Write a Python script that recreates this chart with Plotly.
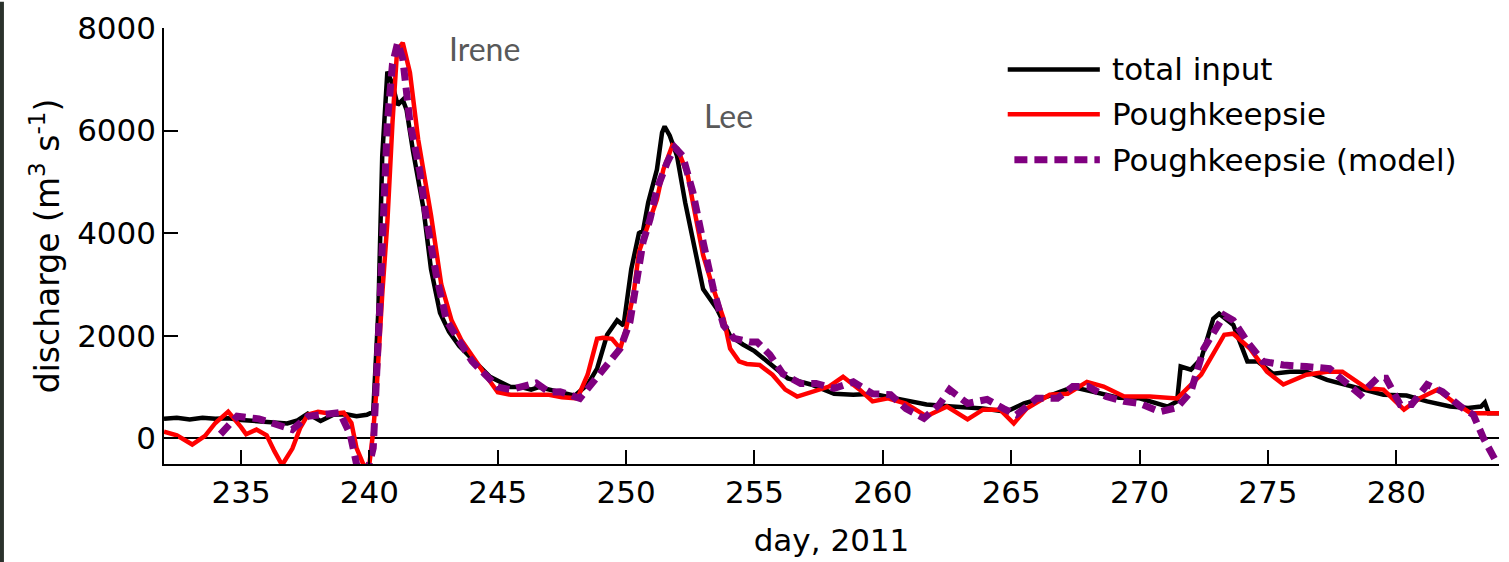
import plotly.graph_objects as go

# ---------------- data ----------------
series_names = ["total input", "Poughkeepsie", "Poughkeepsie (model)"]

total_day = [232.0, 232.5, 233.0, 233.5, 234.0, 234.5, 235.0, 235.5, 236.0, 236.5, 236.8, 237.2, 237.6,
             238.1, 238.6, 239.1, 239.5, 239.9, 240.15, 240.35, 240.5, 240.7, 240.9, 241.1, 241.3, 241.45,
             241.7, 242.1, 242.4, 242.75, 243.1, 243.5, 243.9, 244.3, 244.7, 245.1, 245.5, 245.9, 246.3,
             246.6, 247.0, 247.4, 248.0, 248.5, 248.87, 249.26, 249.65, 249.9, 250.2, 250.5, 250.66, 250.86,
             251.2, 251.4, 251.5, 251.7, 251.98, 252.3, 252.6, 253.0, 253.54, 254.05, 254.55, 255.0, 255.5,
             256.3, 257.2, 258.1, 258.85, 259.6, 260.7, 261.7, 262.7, 263.9, 264.8, 265.5, 266.4, 267.4,
             268.2, 269.2, 270.0, 270.6, 271.1, 271.46, 271.6, 272.0, 272.4, 272.87, 273.1, 273.65, 274.2,
             274.6, 275.2, 275.86, 276.5, 277.3, 278.3, 279.5, 280.4, 281.2, 282.1, 282.8, 283.3, 283.45,
             283.6, 284.0]
total_val = [380, 400, 370, 400, 380, 390, 360, 340, 330, 300, 290, 350, 480,
             340, 460, 470, 430, 460, 520, 2500, 5500, 7150, 6900, 6500, 6600, 6400,
             5600, 4500, 3300, 2450, 2080, 1800, 1600, 1400, 1200, 1100, 1000, 1000, 950,
             1000, 950, 900, 830, 1050, 1360, 2020, 2300, 2200, 3300, 4000, 4050, 4600,
             5240, 5960, 6080, 5900, 5510, 4600, 3830, 2910, 2520, 2000, 1830, 1700, 1500,
             1170, 1050, 870, 850, 870, 760, 660, 620, 580, 520, 680, 815, 1000,
             910, 790, 780, 700, 620, 720, 1400, 1340, 1550, 2330, 2430, 2210, 1500,
             1500, 1260, 1300, 1300, 1140, 1010, 850, 835, 720, 620, 590, 620, 700,
             490, 490]

pk_day = [232.0, 232.5, 233.1, 233.6, 234.0, 234.5, 235.0, 235.2, 235.6, 236.0, 236.3, 236.6, 237.0,
          237.3, 237.6, 238.0, 238.5, 239.0, 239.3, 239.5, 239.8, 240.0, 240.15, 240.3, 240.5, 240.7,
          240.9, 241.08, 241.3, 241.58, 241.9, 242.4, 242.8, 243.2, 243.6, 244.0, 244.5, 245.0, 245.5,
          246.0, 246.5, 247.0, 247.5, 248.1, 248.5, 248.87, 249.1, 249.45, 249.77, 250.0, 250.3, 250.5,
          250.8, 251.2, 251.45, 251.8, 252.0, 252.4, 252.6, 253.0, 253.4, 253.8, 254.05, 254.4, 254.7,
          255.2, 255.7, 256.2, 256.66, 257.2, 257.9, 258.45, 259.1, 259.6, 260.2, 260.9, 261.7, 262.5,
          263.3, 263.9, 264.57, 265.1, 265.6, 266.5, 267.2, 267.95, 268.6, 269.4, 270.4, 271.46, 272.4,
          273.3, 273.65, 274.3, 274.96, 275.6, 276.5, 277.3, 277.9, 278.85, 279.5, 280.3, 280.9, 281.6,
          282.2, 282.9, 284.0]
pk_val = [130, 60, -120, 50, 300, 520, 220, 80, 170, 60, -250, -520, -200,
          200, 460, 520, 480, 500, 300, -190, -550, -500, 140, 1100, 2800, 4210,
          6160, 7570, 7710, 7130, 5830, 4350, 3000, 2300, 1900, 1600, 1250, 900, 850,
          850, 860, 850, 800, 780, 1240, 1940, 1960, 1940, 1750, 2140, 2850, 3630,
          4080, 4660, 5240, 5710, 5650, 5130, 4600, 3570, 2910, 2330, 1750, 1500, 1450,
          1430, 1240, 950, 815, 910, 1010, 1200, 950, 720, 780, 680, 430, 620,
          370, 560, 560, 290, 580, 850, 870, 1100, 1010, 815, 815, 777, 1243,
          2020, 2040, 1750, 1300, 1050, 1240, 1300, 1300, 975, 950, 560, 780, 950,
          720, 490, 490]

model_day = [234.2, 234.85, 235.7, 236.5, 237.0, 237.6, 238.35, 238.85, 239.25, 239.5, 239.8, 240.15,
             240.4, 240.7, 240.9, 241.1, 241.3, 241.58, 241.97, 242.2, 242.6, 243.0, 243.5, 244.0, 244.5,
             245.0, 245.5, 246.0, 246.5, 247.0, 247.43, 248.2, 248.7, 249.4, 249.77, 250.15, 250.4, 250.66,
             250.93, 251.2, 251.6, 251.9, 252.2, 252.6, 253.0, 253.4, 253.8, 254.2, 254.8, 255.1, 255.6,
             256.1, 256.8, 257.4, 258.1, 258.85, 259.6, 260.3, 260.9, 261.6, 262.2, 262.6, 263.3, 264.06,
             264.7, 265.2, 266.0, 266.8, 267.4, 268.0, 268.7, 269.4, 270.0, 270.8, 271.46, 272.0, 272.5,
             273.3, 273.65, 274.2, 274.8, 275.6, 276.5, 277.4, 278.0, 278.6, 279.25, 279.6, 280.15, 280.6,
             281.2, 281.8, 282.5, 283.0, 283.4, 283.9, 284.0]
model_val = [80, 430, 380, 270, 170, 430, 460, 500, 80, -500, -900, -190,
             2500, 6160, 7300, 7710, 7400, 6160, 5190, 4350, 3200, 2300, 1900, 1500, 1250,
             1000, 950, 1000, 1080, 900, 910, 780, 1100, 1500, 1750, 2270, 3110, 3830,
             4270, 4860, 5380, 5670, 5510, 4800, 3830, 2910, 2200, 1950, 1880, 1880, 1630,
             1260, 1070, 1070, 975, 1100, 870, 850, 580, 390, 660, 950, 680, 760,
             580, 460, 780, 780, 1010, 1010, 815, 720, 680, 520, 600, 910, 1750,
             2400, 2300, 1880, 1500, 1430, 1400, 1360, 1100, 850, 1170, 1170, 660, 660,
             1050, 910, 620, 460, 0, -480, -560]

x_ticks = [235, 240, 245, 250, 255, 260, 265, 270, 275, 280]
y_ticks = [0, 2000, 4000, 6000, 8000]
event_labels = ["Irene", "Lee"]
event_day = [244.5, 254.0]
event_val = [7600, 6300]

# ---------------- styles ----------------
colors = ["#000000", "#ff0000", "#800080"]
widths = [4.5, 4.5, 7]
dashes = ["solid", "solid", "13px,7px"]
FONT = "DejaVu Sans"
TICK_SIZE = 31

fig = go.Figure()
fig.add_trace(go.Scatter(x=total_day, y=total_val, mode="lines", name=series_names[0],
                         line=dict(color=colors[0], width=widths[0], dash=dashes[0])))
fig.add_trace(go.Scatter(x=pk_day, y=pk_val, mode="lines", name=series_names[1],
                         line=dict(color=colors[1], width=widths[1], dash=dashes[1])))
fig.add_trace(go.Scatter(x=model_day, y=model_val, mode="lines", name=series_names[2],
                         line=dict(color=colors[2], width=widths[2], dash=dashes[2])))

# manual legend (long line samples like the reference)
leg_x0, leg_x1, leg_tx = 0.632, 0.701, 0.7086
leg_y = [0.905, 0.802, 0.698]
shapes = []
annotations = []
for i, nm in enumerate(series_names):
    x0 = leg_x0 + (0.005 if i == 2 else 0)
    shapes.append(dict(type="line", xref="paper", yref="paper", x0=x0, x1=leg_x1,
                       y0=leg_y[i], y1=leg_y[i],
                       line=dict(color=colors[i], width=widths[i], dash=dashes[i])))
    annotations.append(dict(xref="paper", yref="paper", x=leg_tx, y=leg_y[i], text=nm,
                            showarrow=False, xanchor="left", yanchor="middle",
                            font=dict(family=FONT, size=TICK_SIZE, color="black")))

for lab, d, v in zip(event_labels, event_day, event_val):
    annotations.append(dict(x=d, y=v, xref="x", yref="y", text=lab, showarrow=False,
                            xanchor="center", yanchor="middle",
                            font=dict(family="Lato", size=32, color="#595959")))

# dark strip at the far left edge of the reference
shapes.append(dict(type="rect", xref="paper", yref="paper", x0=-0.1229, x1=-0.1199, y0=-0.3,
                   y1=1.06, fillcolor="#2b322c", line=dict(width=0), layer="above"))

fig.update_layout(
    width=1509, height=562,
    margin=dict(l=164, r=10, t=24, b=98),
    paper_bgcolor="white", plot_bgcolor="white",
    showlegend=False,
    shapes=shapes, annotations=annotations,
    font=dict(family=FONT, size=TICK_SIZE, color="black"),
)
fig.update_xaxes(range=[232, 284], tickvals=x_ticks, ticks="inside", ticklen=14, tickwidth=1.5,
                 tickcolor="black", showline=True, linecolor="black", linewidth=1.5,
                 showgrid=False, zeroline=False, mirror=False,
                 tickfont=dict(family=FONT, size=TICK_SIZE, color="black"),
                 title=dict(text="day, 2011", font=dict(family=FONT, size=31, color="black"), standoff=20))
fig.update_yaxes(range=[-500, 8000], tickvals=y_ticks, ticks="inside", ticklen=14, tickwidth=1.5,
                 tickcolor="black", showline=True, linecolor="black", linewidth=1.5,
                 showgrid=False, zeroline=True, zerolinecolor="black", zerolinewidth=1.5,
                 tickfont=dict(family=FONT, size=TICK_SIZE, color="black"),
                 title=dict(text="discharge (m<sup>3</sup> s<sup>-1</sup>)",
                            font=dict(family=FONT, size=33, color="black"), standoff=8))

fig.write_html("out.html")
